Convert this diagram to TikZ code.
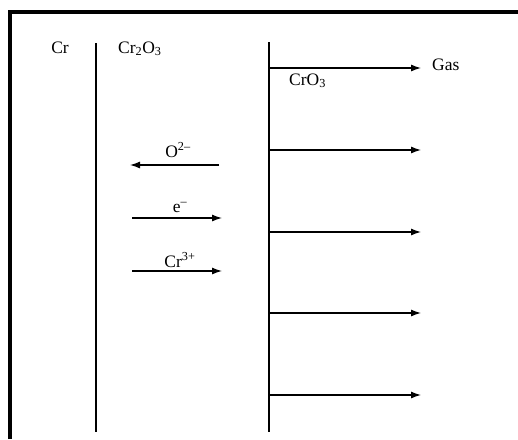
\documentclass[tikz,border=0pt]{standalone}
\usepackage{fontspec}
\setmainfont{Liberation Serif}
\usetikzlibrary{arrows.meta}
\begin{document}
\begin{tikzpicture}[x=1pt,y=-1pt,
  lbl/.style={inner sep=0pt,font=\fontsize{17.5}{20}\selectfont},
  wall/.style={line width=1.2pt},
  flow/.style={line width=1.2pt,-{Latex[length=10pt,width=7pt]}}]
\useasboundingbox (0,0) rectangle (518,439);
\fill[white] (0,0) rectangle (518,439);
% frame (top and left only)
\draw[line width=4pt] (10,439) -- (10,12) -- (518,12);
% walls
\coordinate (w1t) at (96,43);
\coordinate (w1b) at (96,432);
\coordinate (w2t) at (269,42);
\coordinate (w2b) at (269,432);
\draw[wall] (w1t) -- (w1b);
\draw[wall] (w2t) -- (w2b);
% labels
\node[lbl,anchor=base] (cr) at (60,53) {Cr};
\node[lbl,anchor=base west] (cr2o3) at (118,53) {Cr\textsubscript{2}O\textsubscript{3}};
\node[lbl,anchor=base west] (cro3) at (289,85) {CrO\textsubscript{3}};
\node[lbl,anchor=base west] (gas) at (432,70) {Gas};
% gas arrow
\coordinate (g0) at (269,68);
\coordinate (g1) at (421,68);
\draw[flow] (g0) -- (g1);
% right arrows
\foreach \yy [count=\i] in {150,232,313,395}{
  \coordinate (r\i a) at (269,\yy);
  \coordinate (r\i b) at (421,\yy);
  \draw[flow] (r\i a) -- (r\i b);
}
% species arrows
\coordinate (o1) at (219,165);
\coordinate (o2) at (130,165);
\draw[flow] (o1) -- (o2);
\node[lbl,anchor=base] (olab) at (178,157) {O\textsuperscript{2–}};
\coordinate (e1) at (132,218);
\coordinate (e2) at (222,218);
\draw[flow] (e1) -- (e2);
\node[lbl,anchor=base] (elab) at (180,212) {e\textsuperscript{–}};
\coordinate (c1) at (132,271);
\coordinate (c2) at (222,271);
\draw[flow] (c1) -- (c2);
\node[lbl,anchor=base] (clab) at (180,267) {Cr\textsuperscript{3+}};
\end{tikzpicture}
\end{document}
